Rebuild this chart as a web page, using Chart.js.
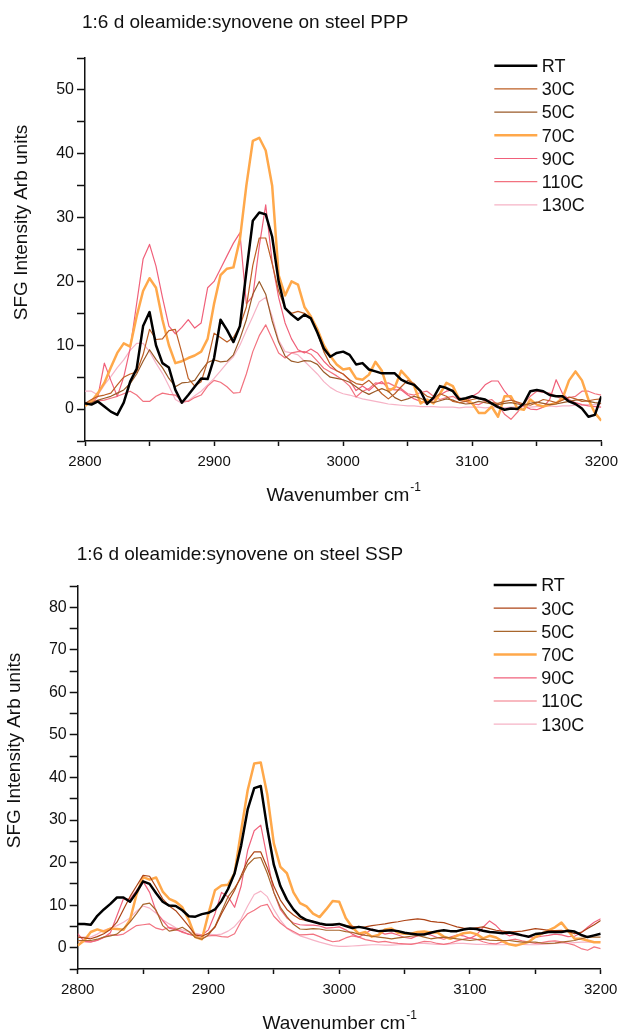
<!DOCTYPE html>
<html>
<head>
<meta charset="utf-8">
<title>SFG spectra, oleamide:synovene on steel</title>
<script src="https://cdn.jsdelivr.net/npm/chart.js@4.4.1/dist/chart.umd.min.js"></script>
<style>
  body { margin: 0; background: #fff; }
  canvas { position: absolute; left: 0; }
</style>
</head>
<body>
<canvas id="pppChart" width="625" height="516" style="top:0"></canvas>
<canvas id="sspChart" width="625" height="517" style="top:516px"></canvas>
<script>
// wavenumber axis (cm-1), one sample every 5
const wavenumbers = [
  2800, 2805, 2810, 2815, 2820, 2825, 2830, 2835, 2840, 2845,
  2850, 2855, 2860, 2865, 2870, 2875, 2880, 2885, 2890, 2895,
  2900, 2905, 2910, 2915, 2920, 2925, 2930, 2935, 2940, 2945,
  2950, 2955, 2960, 2965, 2970, 2975, 2980, 2985, 2990, 2995,
  3000, 3005, 3010, 3015, 3020, 3025, 3030, 3035, 3040, 3045,
  3050, 3055, 3060, 3065, 3070, 3075, 3080, 3085, 3090, 3095,
  3100, 3105, 3110, 3115, 3120, 3125, 3130, 3135, 3140, 3145,
  3150, 3155, 3160, 3165, 3170, 3175, 3180, 3185, 3190, 3195,
  3200
];
const seriesNames = ['RT', '30C', '50C', '70C', '90C', '110C', '130C'];
const xTickLabels = [2800, 2900, 3000, 3100, 3200];
const pppYTickLabels = [0, 10, 20, 30, 40, 50];
const sspYTickLabels = [0, 10, 20, 30, 40, 50, 60, 70, 80];

// ---- PPP ----
const pppRT = [
  0.9, 0.7, 1.2, 0.4, -0.4, -0.9, 1.0, 4.3, 6.3, 13.0,
  15.2, 10.0, 7.2, 6.5, 3.0, 1.0, 2.2, 3.5, 4.8, 4.7,
  8.0, 14.0, 12.4, 10.5, 13.0, 21.5, 29.5, 30.8, 30.5, 27.0,
  20.0, 15.8, 14.8, 14.0, 14.8, 14.2, 12.0, 9.5, 8.2, 8.8,
  9.0, 8.5, 7.0, 7.2, 6.2, 5.9, 5.6, 5.6, 5.6, 4.6,
  4.1, 3.8, 2.8, 0.8, 1.8, 3.6, 3.3, 2.8, 1.5, 1.7,
  2.0, 1.7, 1.5, 0.9, 0.3, -0.1, 0.1, 0.0, 0.9, 2.8,
  3.0, 2.8, 2.2, 2.0, 2.0, 1.2, 0.8, 0.1, -1.2, -0.9,
  2.0
];
const ppp30C = [
  0.9, 1.5, 2.0, 2.2, 2.5, 3.8, 5.0, 5.5, 5.8, 8.5,
  12.5, 10.9, 11.0, 12.3, 12.5, 8.8, 4.8, 3.6, 4.3, 7.5,
  11.9, 11.2, 10.5, 11.2, 13.0, 16.0, 22.5, 26.8, 26.8, 22.8,
  18.5, 15.8, 15.0, 15.3, 15.0, 14.3, 12.0, 9.0, 7.0, 6.0,
  5.5, 4.6, 4.0, 3.8, 4.5, 3.5, 2.4, 1.6, 2.4, 3.5,
  4.5, 4.0, 2.8, 2.0, 1.7, 2.4, 2.0, 1.2, 1.0, 1.2,
  1.5, 1.7, 1.3, 1.0, 0.9, 1.2, 1.4, 1.1, 0.8, 0.6,
  1.0, 1.5, 1.3, 1.0, 1.4, 1.9, 1.6, 1.2, 1.3, 1.5,
  1.6
];
const ppp50C = [
  0.7, 1.0, 1.4, 1.7, 2.0, 2.5, 3.0, 4.0, 5.5, 7.5,
  9.3, 7.8, 6.5, 4.8, 3.5, 4.1, 4.2, 4.5, 6.0, 7.3,
  7.7, 7.4, 7.5, 8.5, 11.0, 14.0, 18.0, 20.0, 18.0, 13.8,
  10.5, 8.3, 7.5, 7.3, 7.6, 7.5, 7.0, 5.8, 5.0, 4.8,
  4.6, 4.2, 3.5, 2.8, 2.3, 2.8, 3.2, 2.8, 1.8, 1.3,
  1.6, 2.0, 1.7, 1.2, 1.0, 1.3, 1.6, 1.4, 1.0, 0.8,
  0.9, 1.2, 1.0, 0.8, 0.7, 0.9, 1.0, 0.8, 0.6, 0.9,
  1.1, 0.9, 0.7, 0.8, 1.0, 1.2, 1.4, 1.5, 1.2, 1.0,
  0.9
];
const ppp70C = [
  0.5, 1.2, 2.5, 4.1, 6.5, 8.8, 10.3, 9.8, 14.5, 18.5,
  20.5, 19.0, 14.0, 10.0, 7.2, 7.5, 8.0, 8.4, 9.0, 11.0,
  16.5, 21.0, 22.0, 22.2, 26.6, 35.0, 42.0, 42.5, 40.5, 35.0,
  21.0, 17.8, 20.0, 19.5, 16.0, 14.5, 12.5, 10.0, 8.3, 7.0,
  6.2, 6.4, 4.8, 4.6, 5.4, 7.4, 6.0, 2.8, 3.4, 6.0,
  4.9, 3.6, 0.9, 1.5, 0.9, 2.4, 4.1, 3.6, 1.5, 1.5,
  0.9, -0.6, -0.6, 0.4, -1.2, 2.0, 2.0, 0.1, -0.1, 1.5,
  0.7, 0.4, 0.7, 0.9, 1.7, 4.5, 5.9, 4.5, 1.5, -0.6,
  -1.8
];
const ppp90C = [
  0.7, 0.9, 2.0, 7.2, 4.5, 2.0, 5.0, 9.5, 16.5, 23.5,
  25.8, 22.4, 17.5, 13.0, 11.8, 12.8, 14.0, 12.7, 13.5, 19.0,
  20.0, 22.0, 24.0, 26.0, 27.6, 16.5, 17.7, 25.5, 32.0, 23.0,
  17.5, 13.5, 11.0, 9.3, 8.8, 9.4, 8.8, 7.5, 6.5, 6.0,
  5.5, 4.5, 2.9, 3.6, 2.9, 3.8, 4.3, 3.2, 3.0, 3.0,
  2.2, 1.6, 1.2, 0.9, 1.5, 2.2, 2.8, 3.0, 1.8, 1.2,
  2.0, 2.6, 3.8, 4.4, 4.4, 2.8, 1.6, 1.0, 0.5, 0.0,
  -0.1, 0.3, 1.5, 4.6, 2.4, 1.5, 1.0, 0.7, 0.5, 0.4,
  0.3
];
const ppp110C = [
  0.9, 1.2, 1.3, 1.4, 1.7, 2.0, 2.4, 2.8, 2.2, 1.2,
  1.2, 2.0, 2.5, 2.3, 2.2, 1.3, 1.2, 1.8, 2.2, 3.6,
  4.5, 4.2, 3.5, 2.5, 2.6, 5.5, 9.0, 11.5, 13.2, 11.0,
  8.8, 8.0, 8.8, 9.0, 9.0, 8.6, 7.5, 6.4, 5.8, 5.2,
  4.5, 3.6, 1.9, 2.8, 3.2, 4.1, 4.0, 4.1, 3.6, 3.2,
  2.4, 2.2, 2.6, 2.8, 2.0, 1.5, 1.8, 2.0, 1.4, 1.2,
  0.8, 0.7, 1.2, 1.5, 0.6, -0.8, -1.6, -0.5, 0.9, 2.0,
  2.8, 2.6, 2.5, 2.0, 1.5, 1.8, 2.0, 2.8, 2.8, 2.4,
  2.2
];
const ppp130C = [
  2.8, 2.8, 2.2, 3.8, 5.1, 6.5, 7.7, 9.2, 10.3, 10.3,
  9.0, 7.2, 5.6, 3.6, 1.5, 0.9, 1.3, 2.1, 2.8, 3.8,
  4.8, 6.0, 7.2, 8.2, 10.0, 12.3, 14.5, 16.8, 17.5, 14.5,
  10.8, 9.0, 8.8, 8.5, 7.5, 6.5, 5.5, 4.3, 3.4, 2.8,
  2.4, 2.2, 1.9, 1.6, 1.4, 1.2, 1.0, 0.8, 0.7, 0.6,
  0.5, 0.5, 0.4, 0.4, 0.4, 0.3, 0.3, 0.3, 0.2, 0.3,
  0.3, 0.3, 0.2, 0.3, 0.3, 0.2, 0.3, 0.3, 0.4, 0.3,
  0.4, 0.4, 0.5, 0.4, 0.5, 0.5, 0.6, 0.6, 0.7, 0.7,
  0.8
];

// ---- SSP ----
const sspRT = [
  5.6, 5.6, 5.4, 7.5, 9.0, 10.3, 11.8, 11.8, 10.8, 13.0,
  15.6, 15.0, 12.8, 10.8, 9.9, 9.8, 8.8, 7.4, 7.3, 7.9,
  8.2, 9.0, 11.0, 13.8, 17.5, 24.0, 32.5, 37.5, 38.0, 28.0,
  19.5, 14.5, 11.3, 9.0, 7.4, 6.5, 6.1, 5.7, 5.4, 5.4,
  5.6, 5.1, 4.6, 4.9, 4.6, 4.2, 3.9, 4.0, 4.1, 3.9,
  3.5, 3.3, 3.1, 3.1, 3.5, 3.9, 4.1, 3.9, 3.9, 4.3,
  4.5, 4.4, 4.0, 3.7, 3.6, 3.4, 3.6, 3.3, 2.9, 2.6,
  3.2, 3.4, 3.7, 3.7, 3.7, 4.0, 3.8, 3.0, 2.5, 2.9,
  3.3
];
const ssp30C = [
  2.5, 2.3, 2.1, 2.6, 3.3, 4.3, 6.0, 9.0, 12.0, 14.5,
  17.0, 16.8, 14.2, 11.5, 9.8, 8.7, 6.9, 5.0, 3.0, 2.7,
  3.4, 4.8, 8.0, 10.8, 13.5, 17.0, 20.5, 22.5, 22.5, 18.8,
  14.5, 11.2, 9.0, 7.7, 6.7, 6.4, 6.2, 5.6, 5.3, 5.5,
  5.5, 5.2, 5.0, 4.8, 4.9, 5.2, 5.4, 5.6, 5.9, 6.1,
  6.4, 6.6, 6.8, 6.6, 6.2, 6.0, 5.9, 5.4, 4.9, 4.6,
  4.5, 4.7, 4.9, 4.5, 4.1, 3.9, 3.7, 3.8, 3.9, 4.2,
  4.5, 4.3, 4.1, 4.0, 4.1, 3.8, 3.3, 3.6, 4.5, 5.4,
  6.4
];
const ssp50C = [
  1.7, 1.7, 1.7, 2.0, 2.5, 2.8, 3.2, 4.5, 6.0, 8.0,
  10.2, 10.5, 8.8, 5.2, 3.9, 4.2, 4.8, 3.8, 2.4, 2.0,
  3.0, 5.0, 8.5, 12.0, 14.0, 16.5, 19.5, 21.0, 21.2, 17.5,
  13.0, 9.5, 7.3, 5.5, 4.4, 4.3, 4.5, 4.4, 4.1, 4.1,
  4.1, 3.8, 3.6, 3.2, 2.9, 2.7, 2.5, 2.3, 2.1, 2.3,
  2.5, 2.7, 2.9, 2.5, 2.1, 2.3, 2.5, 2.3, 2.1, 1.9,
  1.7, 1.9, 2.0, 1.8, 1.7, 1.7, 1.7, 1.5, 1.3, 1.3,
  1.3, 1.1, 1.0, 1.1, 1.3, 1.5, 1.7, 2.1, 2.5, 2.5,
  2.5
];
const ssp70C = [
  0.5, 1.7, 3.7, 4.3, 3.8, 4.5, 4.4, 4.2, 6.5, 12.5,
  16.6, 16.0, 16.5, 13.2, 11.5, 10.8, 9.5, 6.5, 2.5, 2.0,
  8.0, 13.5, 14.6, 14.8, 17.5, 27.5, 37.0, 43.3, 43.5, 36.0,
  24.5, 19.0, 17.5, 13.0, 10.5, 9.7, 8.0, 7.2, 9.0, 11.0,
  10.8, 7.0, 4.8, 3.3, 3.7, 2.6, 3.0, 4.3, 4.5, 3.5,
  3.3, 3.3, 3.7, 3.8, 3.6, 3.6, 2.6, 2.1, 2.8, 3.4,
  3.6, 3.2, 2.2, 2.8, 2.4, 1.5, 0.8, 0.5, 0.9, 1.4,
  2.5, 3.3, 4.1, 4.8, 5.9, 4.0, 2.1, 2.1, 1.7, 1.3,
  1.3
];
const ssp90C = [
  3.3, 1.5, 1.4, 1.7, 2.4, 3.5, 7.5, 11.5, 11.4, 13.5,
  15.6, 13.0, 8.5, 6.4, 4.6, 4.2, 3.8, 3.1, 2.9, 3.0,
  4.2, 8.0, 13.0, 12.0, 9.5, 14.5, 22.9, 27.5, 28.8, 21.0,
  13.0, 9.0, 7.0, 5.8, 5.4, 5.3, 5.3, 5.1, 4.6, 4.7,
  4.9, 4.2, 3.2, 2.5, 3.3, 4.4, 3.8, 3.2, 3.5, 3.0,
  2.4, 2.2, 2.8, 3.3, 3.0, 2.4, 2.0, 2.5, 3.0, 2.8,
  2.2, 3.0, 4.8, 6.3, 5.2, 3.6, 2.8, 3.1, 3.0, 2.5,
  2.4, 2.7, 2.9, 3.2, 3.0, 2.6, 2.7, 3.5, 4.8, 6.0,
  6.8
];
const ssp110C = [
  1.7, 1.4, 1.3, 1.8, 2.5, 3.0, 2.9, 3.2, 4.2, 5.2,
  5.4, 5.6, 4.6, 4.2, 4.8, 4.5, 3.6, 3.2, 2.8, 2.2,
  2.8, 2.9, 2.6, 2.5, 3.3, 6.2, 8.0, 8.8, 9.8, 10.2,
  7.4, 5.8, 4.6, 3.8, 3.0, 3.1, 3.2, 2.6, 1.9, 1.4,
  1.6, 2.3, 2.8, 2.5, 1.9, 1.6, 1.3, 1.5, 1.2, 1.0,
  0.9, 0.8, 1.1, 1.5, 1.4, 1.0, 0.8, 1.1, 1.6, 2.0,
  2.3, 2.0, 1.4, 1.0, 0.9, 1.4, 1.8, 2.0, 1.6, 1.3,
  1.0, 1.2, 1.5, 1.6, 1.4, 1.0, 0.6, -0.2, -0.6, 0.2,
  -0.2
];
const ssp130C = [
  2.5, 2.5, 2.5, 3.2, 4.1, 4.6, 5.2, 6.0, 7.0, 8.6,
  9.8, 9.3, 8.1, 6.6, 5.6, 4.7, 4.2, 3.8, 3.4, 3.0,
  3.2, 3.0, 3.2, 3.9, 5.0, 6.8, 9.8, 12.5, 13.3, 12.0,
  9.0, 6.5, 4.6, 3.5, 2.8, 2.3, 1.8, 1.3, 0.9, 0.5,
  0.3, 0.3, 0.4, 0.5, 0.6, 0.7, 0.7, 0.6, 0.6, 0.7,
  0.8, 0.9, 1.0, 1.0, 0.9, 0.8, 0.8, 0.9, 1.0, 1.0,
  0.9, 0.8, 0.8, 0.7, 0.7, 0.7, 0.8, 0.8, 0.8, 0.7,
  0.7, 0.8, 0.9, 1.0, 1.1, 1.1, 1.2, 1.3, 1.3, 1.3,
  1.4
];

const FONT = '"Liberation Sans", Arial, Helvetica, sans-serif';
const INK = '#111';

// titles, axis titles and the in-plot legend
const annotate = {
  id: 'annotate',
  afterDraw(chart, args, o) {
    const { ctx, chartArea: a } = chart;
    ctx.save();
    ctx.fillStyle = INK;
    ctx.textAlign = 'left';
    ctx.textBaseline = 'alphabetic';

    ctx.font = `19px ${FONT}`;
    ctx.fillText(o.title, a.left + o.titleDx, o.titleY);

    // x title with superscript -1
    const main = 'Wavenumber cm';
    const w1 = ctx.measureText(main).width;
    ctx.font = `12px ${FONT}`;
    const w2 = ctx.measureText('-1').width;
    const x0 = (a.left + a.right) / 2 - (w1 + w2) / 2;
    const yb = a.bottom + 60;
    ctx.fillText('-1', x0 + w1 + 1, yb - 10);
    ctx.font = `19px ${FONT}`;
    ctx.fillText(main, x0, yb);

    // y title
    ctx.save();
    ctx.translate(a.left - 63, (a.top + a.bottom) / 2 - 27);
    ctx.rotate(-Math.PI / 2);
    ctx.textAlign = 'center';
    ctx.textBaseline = 'middle';
    ctx.fillText('SFG Intensity Arb units', 0, 0);
    ctx.restore();

    // legend
    ctx.font = `18px ${FONT}`;
    chart.data.datasets.forEach((ds, i) => {
      const y = o.legendY + i * 23.2;
      ctx.strokeStyle = ds.borderColor;
      ctx.lineWidth = ds.borderWidth;
      ctx.beginPath();
      ctx.moveTo(a.right - 107, y);
      ctx.lineTo(a.right - 64, y);
      ctx.stroke();
      ctx.fillText(ds.label, a.right - 59.5, y + 6.3);
    });
    ctx.restore();
  }
};

function makeChart(id, series, colors, opts) {
  const ctx = document.getElementById(id).getContext('2d');
  const datasets = series.map((vals, i) => ({
    label: seriesNames[i],
    data: wavenumbers.map((x, j) => ({ x: x, y: vals[j] })),
    borderColor: colors[i],
    borderWidth: (i === 0 || i === 3) ? 2.5 : 1.2,
    pointRadius: 0,
    fill: false,
    tension: 0,
    borderJoinStyle: 'round'
  }));

  return new Chart(ctx, {
    type: 'line',
    data: { datasets: datasets },
    plugins: [annotate],
    options: {
      responsive: false,
      animation: false,
      devicePixelRatio: 1,
      layout: { padding: opts.padding },
      plugins: {
        legend: { display: false },
        tooltip: { enabled: false },
        annotate: opts.annotate
      },
      scales: {
        x: {
          type: 'linear',
          min: 2800,
          max: 3200,
          afterFit: s => { s.height = opts.xHeight; },
          border: { display: true, color: INK, width: 1.5 },
          grid: { drawOnChartArea: false, tickLength: 5, tickColor: INK, tickWidth: 1.5 },
          ticks: {
            stepSize: 50,
            autoSkip: false,
            maxRotation: 0,
            padding: 7,
            color: INK,
            font: { family: FONT, size: 15 },
            callback: v => xTickLabels.includes(v) ? String(v) : ''
          }
        },
        y: {
          min: -5,
          max: opts.yMax,
          afterFit: s => { s.width = opts.yWidth; },
          border: { display: true, color: INK, width: 1.5 },
          grid: { drawOnChartArea: false, tickLength: 8, tickColor: INK, tickWidth: 1.5 },
          ticks: {
            stepSize: 5,
            autoSkip: false,
            padding: 3,
            color: INK,
            font: { family: FONT, size: 16 },
            callback: v => opts.yLabels.includes(v) ? String(v) : ''
          }
        }
      }
    }
  });
}

makeChart('pppChart',
  [pppRT, ppp30C, ppp50C, ppp70C, ppp90C, ppp110C, ppp130C],
  ['#000000', '#bd5f25', '#9a5a28', '#ffa84a', '#f0607a', '#f2727f', '#f6b3c6'],
  {
    padding: { left: 0, right: 18, top: 58, bottom: 0 },
    xHeight: 75, yWidth: 85, yMax: 55, yLabels: pppYTickLabels,
    annotate: { title: '1:6 d oleamide:synovene on steel PPP', titleDx: -3, titleY: 28, legendY: 65.7 }
  });

makeChart('sspChart',
  [sspRT, ssp30C, ssp50C, ssp70C, ssp90C, ssp110C, ssp130C],
  ['#000000', '#ad4416', '#a8662c', '#ffa84a', '#f0627c', '#f27482', '#f6b3c6'],
  {
    padding: { left: 0, right: 24.3, top: 70, bottom: 0 },
    xHeight: 64, yWidth: 77.7, yMax: 85, yLabels: sspYTickLabels,
    annotate: { title: '1:6 d oleamide:synovene on steel SSP', titleDx: -1, titleY: 44, legendY: 69 }
  });
</script>
</body>
</html>
